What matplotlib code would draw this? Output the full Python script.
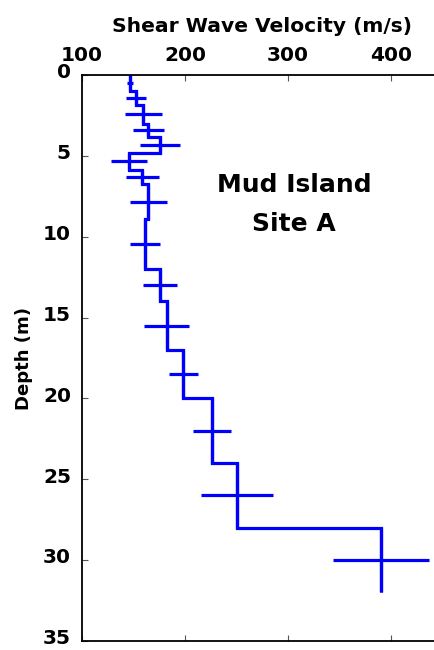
import matplotlib
matplotlib.use("Agg")
import matplotlib.pyplot as plt
from matplotlib.transforms import ScaledTranslation
import numpy as np

plt.rcParams['font.family'] = ['DejaVu Sans']
plt.rcParams['font.weight'] = 'bold'

# Layer boundaries (m), shear wave velocity per layer (m/s) and velocity uncertainty (m/s)
layer_edges = [0.0, 1.0, 1.85, 3.0, 3.85, 4.8, 5.85, 6.75, 8.9, 12.0, 14.0, 17.0, 20.0, 24.0, 28.0, 32.0]
velocity = [146.6, 152.4, 159.5, 164.4, 175.7, 145.9, 158.5, 164.4, 161.2, 175.7, 182.2, 198.4, 225.9, 250.2, 390.3]
velocity_err = [2.7, 10.0, 18.0, 15.0, 19.5, 17.5, 16.0, 18.0, 15.0, 16.7, 22.0, 14.0, 18.6, 35.0, 47.0]

x_ticks = [100, 200, 300, 400]
y_ticks = [0, 5, 10, 15, 20, 25, 30, 35]

edges = np.asarray(layer_edges)
mid_depth = (edges[:-1] + edges[1:]) / 2
half_thick = (edges[1:] - edges[:-1]) / 2

fig = plt.figure(figsize=(4.35, 6.5), dpi=100)
ax = fig.add_axes([82 / 435, 9 / 650, 360.5 / 435, 566 / 650])

ax.stairs(velocity, layer_edges, orientation='horizontal', baseline=None,
          color='#0000ff', linewidth=2.3)
ax.errorbar(velocity, mid_depth, xerr=velocity_err, yerr=half_thick, fmt='none',
            ecolor='#0000ff', elinewidth=2.3, capsize=0)

ax.set_xlim(100, 450)
ax.set_ylim(35, 0)
ax.set_xticks(x_ticks)
ax.set_yticks(y_ticks)
ax.xaxis.set_ticks_position('both')
ax.xaxis.set_label_position('top')
ax.tick_params(axis='x', which='both', labeltop=True, labelbottom=False,
               direction='in', length=4, width=0.8, color='#555555',
               labelsize=14.5, pad=7)
ax.tick_params(axis='y', direction='in', length=4, width=0.8, color='#555555',
               labelsize=14.5, pad=8)
lift = ScaledTranslation(0, 3 / 72, fig.dpi_scale_trans)
for lab in ax.get_yticklabels():
    lab.set_fontweight('bold')
    lab.set_transform(lab.get_transform() + lift)
for lab in ax.get_xticklabels():
    lab.set_fontweight('bold')

ax.spines['right'].set_visible(False)
for s in ('top', 'bottom', 'left'):
    ax.spines[s].set_linewidth(1.3)

ax.set_xlabel('Shear Wave Velocity (m/s)', fontsize=14.6, fontweight='bold', labelpad=10)
ax.set_ylabel('Depth (m)', fontsize=13, fontweight='bold', labelpad=7)

ax.text(305.8, 6.8, 'Mud Island', ha='center', va='center', fontsize=18, fontweight='bold')
ax.text(305.8, 9.2, 'Site A', ha='center', va='center', fontsize=18, fontweight='bold')

fig.savefig('out.png', dpi=100)
